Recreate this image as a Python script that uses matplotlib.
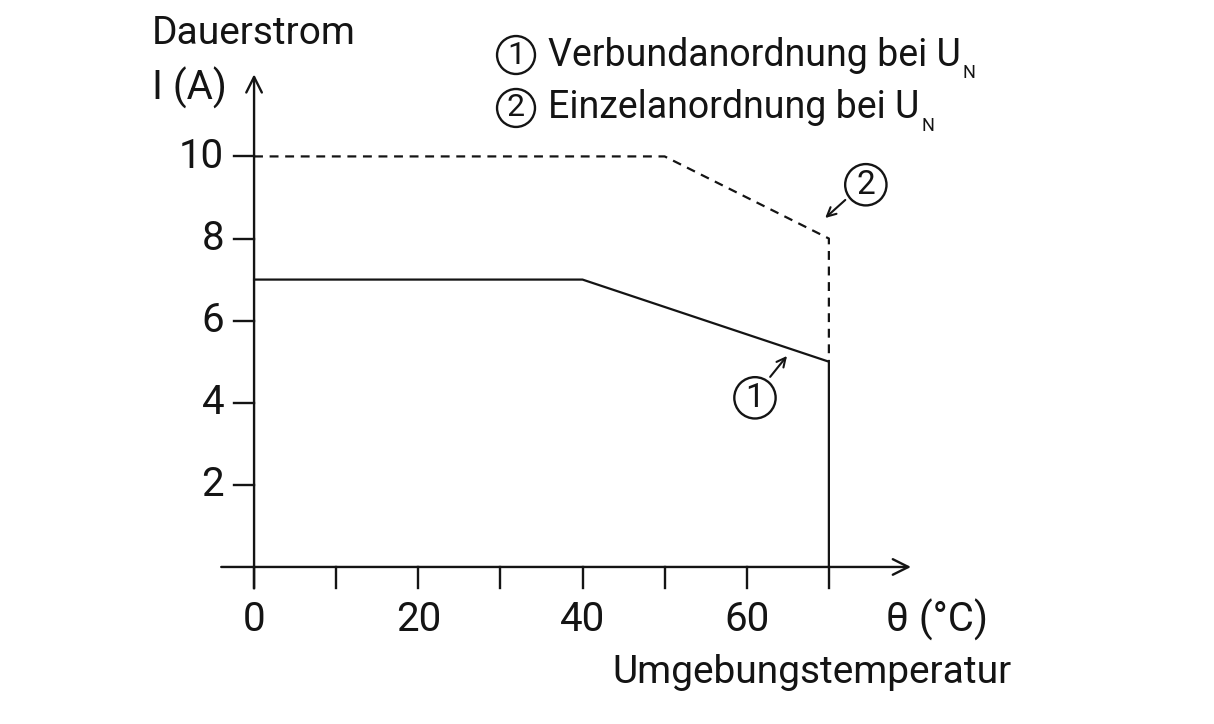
import matplotlib
matplotlib.use("Agg")
import matplotlib.pyplot as plt

plt.rcParams['font.family'] = ['Roboto', 'DejaVu Sans']

# Kurve 1: Verbundanordnung (durchgezogen)
temp_1 = [0, 40, 70, 70]
strom_1 = [7, 7, 5, 0]
# Kurve 2: Einzelanordnung (gestrichelt)
temp_2 = [0, 50, 70, 70]
strom_2 = [10, 10, 8, 5]

x_ticks = [0, 10, 20, 30, 40, 50, 60, 70]
x_labels = [0, 20, 40, 60]
y_ticks = [2, 4, 6, 8, 10]

legend_nr = ['1', '2']
legend_text = ['Verbundanordnung bei U', 'Einzelanordnung bei U']

ink = '#141414'
fs = 29

fig = plt.figure(figsize=(12.14, 7.24), dpi=100)
ax = fig.add_axes([0, 0, 1, 1])
ax.set_xlim(-30.94, 116.9)
ax.set_ylim(-3.825, 13.81)
ax.axis('off')

# Achsen mit Pfeil
arrow = dict(arrowstyle='->', lw=1.7, color=ink, mutation_scale=28, shrinkA=0, shrinkB=0)
ax.annotate('', xy=(80, 0), xytext=(-4, 0), arrowprops=arrow)
ax.annotate('', xy=(0, 12), xytext=(0, -0.52), arrowprops=arrow)

for t in x_ticks:
    ax.plot([t, t], [0, -0.52], color=ink, lw=1.7)
for t in y_ticks:
    ax.plot([-2.4, 0], [t, t], color=ink, lw=1.7)
    ax.text(-3.65, t, str(t), ha='right', va='center', fontsize=fs, color=ink)
for t in x_labels:
    ax.text(t, -1.29, str(t), ha='center', va='center', fontsize=fs, color=ink)

# Kurven
ax.plot(temp_1, strom_1, color=ink, lw=1.6)
ax.plot(temp_2, strom_2, color=ink, lw=1.6, dashes=(4, 3))

# Achsentitel
ax.text(83.2, -1.29, 'θ (°C)', ha='center', va='center', fontsize=fs, color=ink)
ax.text(92.3, -2.56, 'Umgebungstemperatur', ha='right', va='center', fontsize=28, color=ink)
ax.text(-12.42, 13.0, 'Dauerstrom', ha='left', va='center', fontsize=28, color=ink)
ax.text(-12.42, 11.67, 'I (A)', ha='left', va='center', fontsize=fs, color=ink)

circle = dict(boxstyle='circle,pad=0.14', fc='none', ec=ink, lw=1.7)

# Legende
fig.canvas.draw()
renderer = fig.canvas.get_renderer()
for y, nr, label in zip([12.47, 11.18], legend_nr, legend_text):
    ax.text(31.9, y, nr, ha='center', va='center', fontsize=23, color=ink, bbox=circle)
    t = ax.text(35.8, y, label, ha='left', va='center', fontsize=27, color=ink)
    bb = t.get_window_extent(renderer).transformed(ax.transData.inverted())
    ax.text(bb.x1 + 0.2, y - 0.45, 'N', ha='left', va='center', fontsize=13, color=ink)

# Kennzeichnung der Kurven
small_arrow = dict(arrowstyle='->', lw=1.5, color=ink, mutation_scale=16, shrinkA=0, shrinkB=0)
ax.text(74.5, 9.31, '2', ha='center', va='center', fontsize=24, color=ink, bbox=circle)
ax.annotate('', xy=(69.55, 8.5), xytext=(72.0, 8.94), arrowprops=small_arrow)
ax.text(61.0, 4.12, '1', ha='center', va='center', fontsize=24, color=ink, bbox=circle)
ax.annotate('', xy=(64.9, 5.14), xytext=(62.85, 4.63), arrowprops=small_arrow)

fig.savefig('out.png', dpi=100)
